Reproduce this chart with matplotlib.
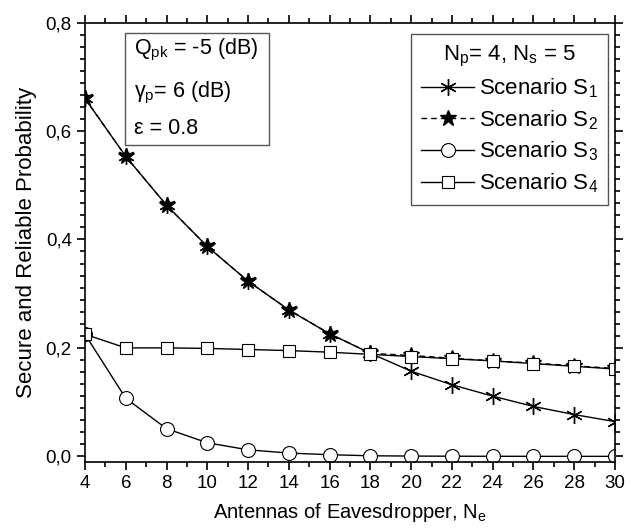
import numpy as np
import matplotlib
matplotlib.use('Agg')
from matplotlib import pyplot as plt
from matplotlib.patches import Rectangle
from matplotlib.ticker import MultipleLocator, FuncFormatter

plt.rcParams['font.family'] = ['Liberation Sans', 'DejaVu Sans']
plt.rcParams['mathtext.fontset'] = 'custom'
plt.rcParams['mathtext.rm'] = 'Liberation Sans'
plt.rcParams['mathtext.it'] = 'Liberation Sans'

# antennas of eavesdropper
n_e = [4, 6, 8, 10, 12, 14, 16, 18, 20, 22, 24, 26, 28, 30]

s1 = [0.660, 0.553, 0.463, 0.387, 0.323, 0.270, 0.226, 0.190, 0.157, 0.132, 0.111, 0.092, 0.077, 0.064]
s2 = [0.660, 0.553, 0.463, 0.387, 0.323, 0.270, 0.226, 0.190, 0.186, 0.181, 0.176, 0.172, 0.167, 0.162]
s3 = [0.225, 0.107, 0.051, 0.025, 0.012, 0.006, 0.003, 0.001, 0.0005, 0.0002, 0.0001, 0.0, 0.0, 0.0]
s4 = [0.225, 0.200, 0.200, 0.199, 0.197, 0.195, 0.192, 0.188, 0.184, 0.180, 0.176, 0.171, 0.166, 0.161]

labels = ['Scenario S$_1$', 'Scenario S$_2$', 'Scenario S$_3$', 'Scenario S$_4$']
params = ['Q$_\\mathrm{pk}$ = -5 (dB)', '$\\gamma_\\mathrm{p}$= 6 (dB)', '\u03b5 = 0.8']

fig = plt.figure(figsize=(6.32, 5.31), dpi=100)
ax = fig.add_axes([0.1345, 0.1299, 0.8386, 0.8277])

ax.plot(n_e, s1, color='black', lw=1, marker=(6, 2, 0), ms=12, mew=1, label=labels[0])
ax.plot(n_e, s2, color='black', lw=1, ls='--', dashes=(4, 3), marker='*', ms=12, label=labels[1])
ax.plot(n_e, s3, color='black', lw=1, marker='o', ms=10, mfc='white', mew=0.8, label=labels[2])
ax.plot(n_e, s4, color='black', lw=1, marker='s', ms=8, mfc='white', mew=0.8, label=labels[3])

ax.set_xlim(4, 30)
ax.set_ylim(-0.0105, 0.8)
ax.xaxis.set_major_locator(MultipleLocator(2))
ax.xaxis.set_minor_locator(MultipleLocator(1))
ax.yaxis.set_major_locator(MultipleLocator(0.2))
ax.yaxis.set_minor_locator(MultipleLocator(0.2 / 9))
ax.yaxis.set_major_formatter(FuncFormatter(lambda v, p: ('%.1f' % v).replace('.', ',')))

ax.tick_params(which='both', direction='out', top=True, right=True, labelsize=13.5, width=1.2)
ax.tick_params(which='major', length=6)
ax.tick_params(which='minor', length=3.5)
for s in ax.spines.values():
    s.set_linewidth(1.2)

ax.set_xlabel('Antennas of Eavesdropper, N$_\\mathrm{e}$', fontsize=14.5, labelpad=6)
ax.set_ylabel('Secure and Reliable Probability', fontsize=16, labelpad=6)

# parameter box
ax.add_patch(Rectangle((0.0755, 0.721), 0.2715, 0.255, transform=ax.transAxes,
                       fc='white', ec='#555555', lw=1, zorder=5))
for txt, yy in zip(params, [0.937, 0.840, 0.758]):
    ax.text(0.093, yy, txt, transform=ax.transAxes, fontsize=15.5,
            va='center', ha='left', zorder=6)

leg = ax.legend(title='N$_\\mathrm{p}$= 4, N$_\\mathrm{s}$ = 5', loc='upper right',
                bbox_to_anchor=(0.987, 0.975), borderaxespad=0,
                fontsize=16, title_fontsize=16,
                fancybox=False, edgecolor='#555555', framealpha=1,
                handlelength=2.4, handletextpad=0.2, borderpad=0.45, labelspacing=0.36)
leg.get_frame().set_linewidth(1)

fig.savefig('out.png', dpi=100)
